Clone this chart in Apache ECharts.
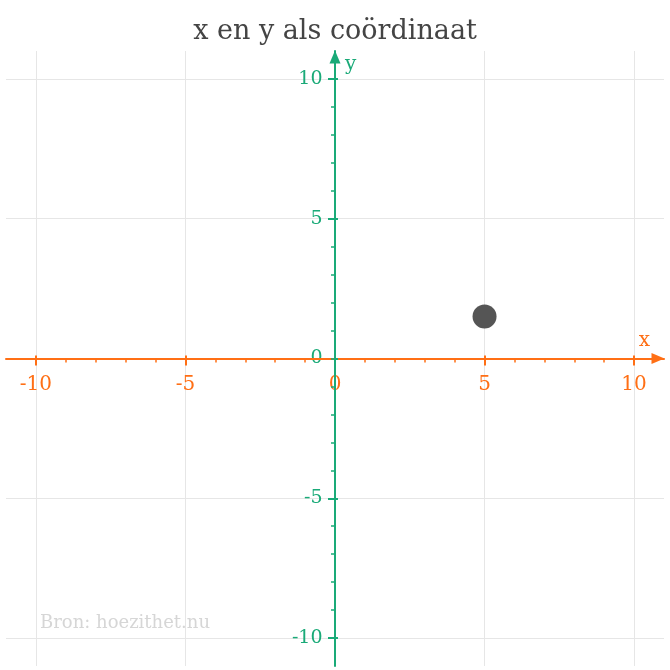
<!DOCTYPE html>
<html>
<head>
  <meta charset="utf-8">
  <script src="https://cdn.jsdelivr.net/npm/echarts@6/dist/echarts.min.js"></script>
</head>
<body style="margin: 0">
  <div id="container" style="width: 670px; height: 670px"></div>
  <script type="text/javascript">
    var titleText = 'x en y als coördinaat';
    var sourceText = 'Bron: hoezithet.nu';
    var axisMin = -11;
    var axisMax = 11;
    var minorTicks = [-10, -9, -8, -7, -6, -5, -4, -3, -2, -1, 0, 1, 2, 3, 4, 5, 6, 7, 8, 9, 10];
    var majorTicks = [-10, -5, 0, 5, 10];
    var pointX = [5];
    var pointY = [1.5];

    var orange = '#ff6f15';
    var green = '#1aaa78';
    var font = 'DejaVu Serif';

    var myChart = echarts.init(document.getElementById('container'));

    // drie assen per richting: hoofdas (lijn, kleine streepjes),
    // een as voor grote streepjes naar buiten + rasterlijnen, een as voor grote streepjes naar binnen
    // (labels komen uit een aparte reeks: v6 zet aslabels bij onZero op de rand van het grid)
    function makeAxes(pos, color, name, nameStyle, nameGap, z) {
      var common = {
        type: 'value',
        min: axisMin,
        max: axisMax,
        position: pos,
        axisLabel: { show: false },
        splitLine: { show: false }
      };
      var main = Object.assign({}, common, {
        z: z,
        name: name,
        nameLocation: 'end',
        nameGap: nameGap,
        nameTextStyle: nameStyle,
        axisLine: {
          onZero: true, onZeroAxisIndex: 0,
          symbol: ['none', 'triangle'], symbolSize: [11, 13], symbolOffset: [0, -6],
          lineStyle: { color: color, width: 2 }
        },
        axisTick: { customValues: minorTicks, length: 4, lineStyle: { color: color, width: 1.5 } }
      });
      var majorOut = Object.assign({}, common, {
        z: -1,
        axisLine: { show: false, onZero: true, onZeroAxisIndex: 0 },
        axisTick: { customValues: majorTicks, length: 7, lineStyle: { color: color, width: 2 } },
        splitLine: { show: true, lineStyle: { color: '#e6e6e6', width: 1 } }
      });
      var majorIn = Object.assign({}, common, {
        z: z,
        axisLine: { show: false, onZero: true, onZeroAxisIndex: 0 },
        axisTick: { customValues: majorTicks, inside: true, length: 3, lineStyle: { color: color, width: 2 } }
      });
      return [main, majorOut, majorIn];
    }

    function labelSeries(data, pos, dist, color, size) {
      return {
        type: 'scatter',
        silent: true,
        z: 1,
        symbolSize: 1,
        itemStyle: { color: 'rgba(0,0,0,0)', opacity: 1 },
        label: {
          show: true,
          position: pos,
          distance: dist,
          color: color,
          opacity: 1,
          fontFamily: font,
          fontSize: size,
          formatter: function (p) { return String(p.data[2]); }
        },
        data: data
      };
    }

    var option = {
      animation: false,
      title: {
        text: titleText,
        left: 'center',
        top: 13,
        textStyle: { fontFamily: font, fontSize: 27, fontWeight: 'normal', color: '#444' }
      },
      graphic: [{
        type: 'text',
        left: 40,
        top: 614,
        style: { text: sourceText, fontFamily: font, fontSize: 18, fill: '#d6d6d6' }
      }],
      grid: { left: 6, right: 6, top: 51, bottom: 4, outerBoundsMode: 'none' },
      xAxis: makeAxes('bottom', orange, 'x',
        { color: orange, fontFamily: font, fontSize: 20, align: 'right', verticalAlign: 'bottom', padding: [0, 0, 8, 0] }, -14, 3),
      yAxis: makeAxes('left', green, 'y',
        { color: green, fontFamily: font, fontSize: 20, align: 'left', verticalAlign: 'top', padding: [0, 0, 0, 10] }, -4, 4),
      series: [
        labelSeries(majorTicks.map(function (v) { return [v, 0, v]; }), 'bottom', 16, orange, 20),
        labelSeries(majorTicks.map(function (v) { return [0, v, v]; }), 'left', 12, green, 19),
        {
          type: 'scatter',
          z: 10,
          symbolSize: 24,
          itemStyle: { color: '#555555', opacity: 1 },
          data: pointX.map(function (x, i) { return [x, pointY[i]]; })
        }
      ]
    };

    myChart.setOption(option);
    window.addEventListener('resize', myChart.resize);
  </script>
</body>
</html>
